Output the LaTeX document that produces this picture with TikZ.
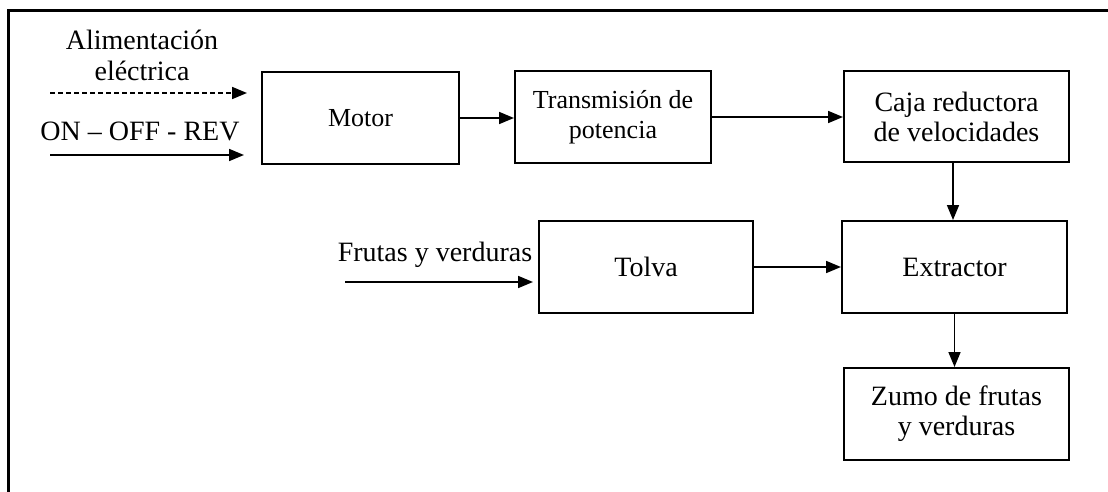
\documentclass[tikz,border=0pt]{standalone}
\usepackage{fontspec}
\setmainfont{Liberation Serif}
\usetikzlibrary{arrows.meta}
\begin{document}
\begin{tikzpicture}[x=1pt,y=-1pt,
  block/.style={draw, line width=2pt, align=center, inner sep=0pt,
    font=\fontsize{28}{30}\selectfont},
  smallblock/.style={block, font=\fontsize{26}{30}\selectfont},
  flow/.style={line width=1.7pt, -{Triangle[length=15pt,width=12pt]}},
  label/.style={anchor=base, inner sep=0pt, font=\fontsize{28}{30}\selectfont},
  frame/.style={line width=3pt}]
  \useasboundingbox (0,0) rectangle (1108,492);

  % open frame: left and top edges
  \coordinate (fbl) at (8,494);
  \coordinate (ftl) at (8,11);
  \coordinate (ftr) at (1110,11);
  \draw[frame] (fbl) -- (ftl) -- (ftr);

  % process blocks
  \node[smallblock, minimum width=197pt, minimum height=92pt] (motor) at (360.5,118) {Motor};
  \node[smallblock, minimum width=196pt, minimum height=92pt] (trans) at (613,117) {Transmisión de\\potencia};
  \node[block, minimum width=225pt, minimum height=91pt] (caja) at (956.5,116.5) {Caja reductora\\de velocidades};
  \node[block, minimum width=214pt, minimum height=92pt] (tolva) at (646,267) {Tolva};
  \node[block, minimum width=225pt, minimum height=92pt] (extr) at (954.5,267) {Extractor};
  \node[block, minimum width=225pt, minimum height=92pt] (zumo) at (956.5,414) {Zumo de frutas\\y verduras};

  % inputs
  \node[label] (alim1) at (142,50) {Alimentación};
  \node[label] (alim2) at (142,80.5) {eléctrica};
  \node[label] (onoff) at (140,140.5) {ON – OFF - REV};
  \node[label] (frutas) at (435,261.5) {Frutas y verduras};

  \coordinate (pwrA) at (50,93);
  \coordinate (pwrB) at (247,93);
  \coordinate (ctlA) at (50,155);
  \coordinate (ctlB) at (244,155);
  \coordinate (frA) at (345,282);
  \coordinate (frB) at (533,282);

  \draw[flow, dash pattern=on 5pt off 3pt] (pwrA) -- (pwrB);
  \draw[flow] (ctlA) -- (ctlB);
  \draw[flow] (frA) -- (frB);

  % connections between blocks
  \draw[flow] (motor.east) -- (motor.east -| trans.west);
  \draw[flow] (trans.east) -- (trans.east -| caja.west);
  \draw[flow] ([xshift=-3.5pt]caja.south) -- ([xshift=-3.5pt]caja.south |- extr.north);
  \draw[flow] (tolva.east) -- (tolva.east -| extr.west);
  \draw[flow] (extr.south) -- (extr.south |- zumo.north);
\end{tikzpicture}
\end{document}
